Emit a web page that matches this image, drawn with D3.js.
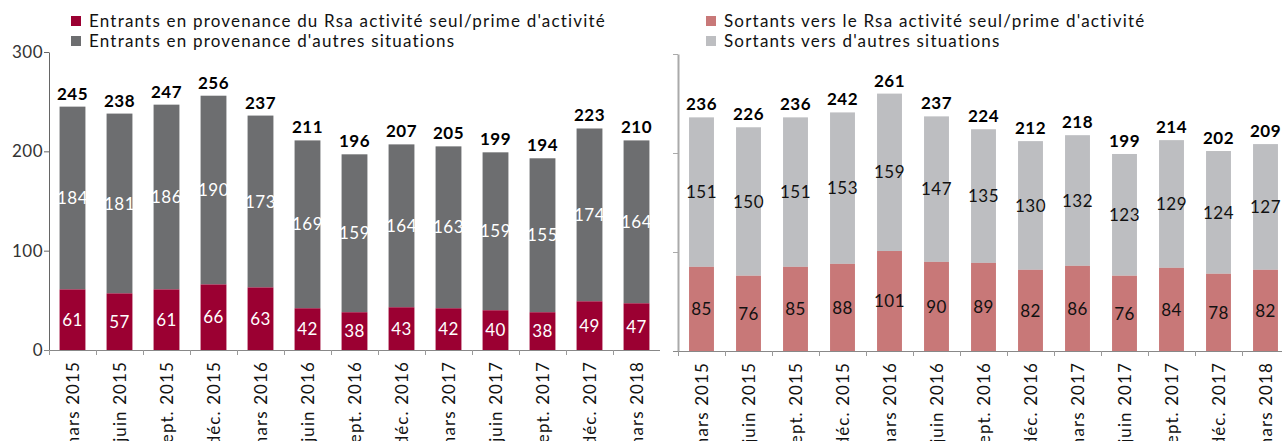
<!DOCTYPE html>
<html><head><meta charset="utf-8">
<script src="https://cdn.jsdelivr.net/npm/d3@7/dist/d3.min.js"></script>
<style>
html,body{margin:0;padding:0;background:#fff;overflow:hidden}
text{font-family:Lato,"DejaVu Sans",sans-serif}
</style></head>
<body>
<svg id="c" width="1282" height="441"></svg>
<script>
const categories = ["mars 2015","juin 2015","sept. 2015","déc. 2015","mars 2016","juin 2016","sept. 2016","déc. 2016","mars 2017","juin 2017","sept. 2017","déc. 2017","mars 2018"];
const entrantsRsa    = [61,57,61,66,63,42,38,43,42,40,38,49,47];
const entrantsAutres = [184,181,186,190,173,169,159,164,163,159,155,174,164];
const entrantsTotal  = [245,238,247,256,237,211,196,207,205,199,194,223,210];
const sortantsRsa    = [85,76,85,88,101,90,89,82,86,76,84,78,82];
const sortantsAutres = [151,150,151,153,159,147,135,130,132,123,129,124,127];
const sortantsTotal  = [236,226,236,242,261,237,224,212,218,199,214,202,209];
const yTicks = [0,100,200,300];
const legendLeft  = ["Entrants en provenance du Rsa activité seul/prime d'activité","Entrants en provenance d'autres situations"];
const legendRight = ["Sortants vers le Rsa activité seul/prime d'activité","Sortants vers d'autres situations"];

const svg = d3.select("#c");

function panel(opt){
  const g = svg.append("g");
  const x = d3.scaleBand(categories,[opt.x0,opt.x1]).paddingInner(opt.pad).paddingOuter(opt.pad/2);
  const y = d3.scaleLinear([0,300],[opt.y0,opt.yTop]);
  const step = x.step();

  // bars
  categories.forEach((c,i)=>{
    const bx = x(c), bw = x.bandwidth();
    const a = opt.low[i], b = opt.high[i];
    g.append("rect").attr("x",bx).attr("width",bw)
      .attr("y",y(a+b)).attr("height",y(a)-y(a+b)).attr("fill",opt.cHigh);
    g.append("rect").attr("x",bx).attr("width",bw)
      .attr("y",y(a)).attr("height",y(0)-y(a)).attr("fill",opt.cLow);
    g.append("text").attr("x",bx+bw/2).attr("y",y(a/2)).attr("dy","0.36em")
      .attr("text-anchor","middle").attr("font-size",17).attr("letter-spacing",0.4).attr("fill",opt.inner).text(a);
    g.append("text").attr("x",bx+bw/2).attr("y",y(a+b/2)).attr("dy","0.36em")
      .attr("text-anchor","middle").attr("font-size",17).attr("letter-spacing",0.4).attr("fill",opt.inner).text(b);
    g.append("text").attr("x",bx+bw/2).attr("y",y(a+b)-7)
      .attr("text-anchor","middle").attr("font-size",17).attr("font-weight","bold").attr("letter-spacing",0.4).attr("fill","#000").text(opt.total[i]);
  });

  // y axis
  const ya = d3.axisLeft(y).tickValues(yTicks).tickSize(5).tickSizeOuter(0)
    .tickFormat(opt.yLabels ? d3.format("d") : "");
  const yg = g.append("g").attr("transform",`translate(${opt.x0},0)`).call(ya);
  yg.select(".domain").attr("stroke",opt.axisColor).attr("stroke-width",opt.axisW);
  yg.selectAll(".tick line").attr("stroke",opt.axisColor);
  yg.selectAll(".tick text").attr("font-size",17).attr("fill","#333").attr("font-family","Lato, sans-serif")
    .attr("letter-spacing",0.5).attr("x",-6);

  // x axis
  const xa = d3.axisBottom(x).tickSize(0).tickSizeOuter(0);
  const xg = g.append("g").attr("transform",`translate(0,${opt.y0})`).call(xa);
  xg.select(".domain").attr("stroke","#888").attr("d",`M${opt.x0-5},0.5H${opt.x1}`);
  xg.selectAll(".tick text").attr("font-size",17).attr("fill","#111").attr("font-family","Lato, sans-serif")
    .attr("letter-spacing",1.1)
    .attr("text-anchor","end").attr("transform","rotate(-90)")
    .attr("x",-11).attr("y",0).attr("dy","0.36em");
  categories.forEach(c=>{
    const bx = x(c) - step*x.paddingInner()/2;
    xg.append("line").attr("x1",bx+0.5).attr("x2",bx+0.5).attr("y1",0).attr("y2",5).attr("stroke","#999");
  });

  // legend
  const lg = g.append("g");
  opt.legend.forEach((t,i)=>{
    lg.append("rect").attr("x",opt.legX).attr("y",16+i*20).attr("width",10).attr("height",10)
      .attr("fill", i===0?opt.cLow:opt.cHigh);
    lg.append("text").attr("x",opt.legX+18).attr("y",27+i*20).attr("font-size",17)
      .attr("letter-spacing",1.2).attr("fill","#111").text(t);
  });
}

panel({x0:49,x1:660,y0:350,yTop:52,pad:0.45,low:entrantsRsa,high:entrantsAutres,total:entrantsTotal,
  cLow:"#9b0032",cHigh:"#6d6e70",inner:"#fff",yLabels:true,axisColor:"#666",axisW:1,
  legend:legendLeft,legX:71});
panel({x0:678,x1:1289,y0:351,yTop:54,pad:0.47,low:sortantsRsa,high:sortantsAutres,total:sortantsTotal,
  cLow:"#c87878",cHigh:"#bdbec1",inner:"#111",yLabels:false,axisColor:"#aaa",axisW:2,
  legend:legendRight,legX:706});
</script>
</body></html>
